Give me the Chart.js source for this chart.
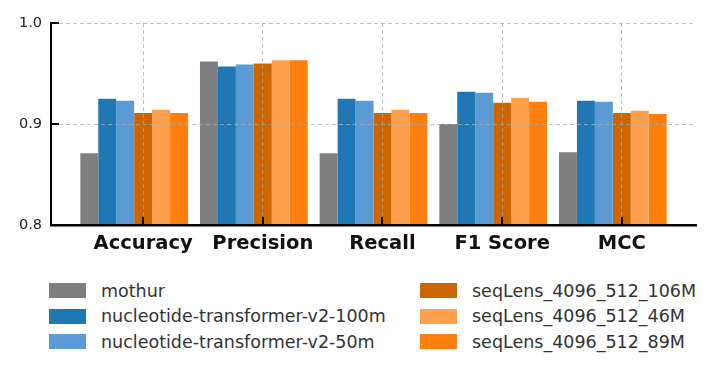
<!DOCTYPE html>
<html>
<head>
<meta charset="utf-8">
<script src="https://cdn.jsdelivr.net/npm/chart.js@4/dist/chart.umd.min.js"></script>
<style>
  body { margin: 0; background: #fff; }
  #wrap { position: relative; width: 720px; height: 379px; font-family: 'DejaVu Sans', sans-serif; }
  #plot { position: absolute; left: 0; top: 0; width: 720px; height: 262px; }
  .legend-item { position: absolute; display: flex; align-items: center; height: 15px; font-size: 17.5px; color: #333; white-space: nowrap; }
  .legend-item span.sw { display: inline-block; width: 37px; height: 15px; margin-right: 15px; }
</style>
</head>
<body>
<div id="wrap">
  <div id="plot"><canvas id="chart"></canvas></div>
  <div id="legend"></div>
</div>
<script>
const categories = ['Accuracy', 'Precision', 'Recall', 'F1 Score', 'MCC'];
const seriesNames = [
  'mothur',
  'nucleotide-transformer-v2-100m',
  'nucleotide-transformer-v2-50m',
  'seqLens_4096_512_106M',
  'seqLens_4096_512_46M',
  'seqLens_4096_512_89M'
];
const mothur = [0.871, 0.962, 0.871, 0.900, 0.872];
const nt100m = [0.925, 0.957, 0.925, 0.932, 0.923];
const nt50m = [0.923, 0.959, 0.923, 0.931, 0.922];
const seqLens106M = [0.911, 0.960, 0.911, 0.921, 0.911];
const seqLens46M = [0.914, 0.963, 0.914, 0.926, 0.913];
const seqLens89M = [0.911, 0.963, 0.911, 0.922, 0.910];
const yTicks = [0.8, 0.9, 1.0];

const colors = ['#7f7f7f', '#1f77b4', '#5b9bd5', '#cc6600', '#ffa04f', '#ff7f0e'];
const allValues = [mothur, nt100m, nt50m, seqLens106M, seqLens46M, seqLens89M];

// bars are 0.15 wide, the tick sits on the 4th bar of each group
const barW = 0.15;
const shift = -barW / 2;
const xMin = -3.5 * barW - 0.245;
const xMax = categories.length - 1 + 2.5 * barW + 0.245;

const datasets = allValues.map((vals, j) => ({
  label: seriesNames[j],
  data: vals.map((v, i) => ({ x: i + shift, y: v })),
  backgroundColor: colors[j],
  borderWidth: 0,
  barPercentage: 1,
  categoryPercentage: 0.9
}));

const gridColor = 'rgba(170,170,170,0.75)';

const innerTicks = {
  id: 'innerTicks',
  afterDraw(chart) {
    const { ctx, chartArea } = chart;
    const xs = chart.scales.x, ys = chart.scales.y;
    ctx.save();
    ctx.strokeStyle = '#000';
    ctx.lineWidth = 2;
    categories.forEach((c, i) => {
      const px = Math.round(xs.getPixelForValue(i));
      ctx.beginPath();
      ctx.moveTo(px, chartArea.bottom);
      ctx.lineTo(px, chartArea.bottom - 8);
      ctx.stroke();
    });
    yTicks.forEach(v => {
      const py = ys.getPixelForValue(v);
      ctx.beginPath();
      ctx.moveTo(chartArea.left, py);
      ctx.lineTo(chartArea.left + 8, py);
      ctx.stroke();
    });
    ctx.restore();
  }
};

const chart = new Chart(document.getElementById('chart'), {
  type: 'bar',
  data: { datasets },
  options: {
    responsive: true,
    maintainAspectRatio: false,
    animation: false,
    layout: { padding: { top: 23, right: 24, left: 0, bottom: 0 } },
    plugins: { legend: { display: false }, tooltip: { enabled: false } },
    scales: {
      x: {
        type: 'linear',
        min: xMin,
        max: xMax,
        offset: false,
        afterBuildTicks: s => { s.ticks = categories.map((c, i) => ({ value: i })); },
        afterFit: s => { s.height = 37; },
        grid: { offset: false, color: gridColor, lineWidth: 1, drawTicks: false, z: 1 },
        border: { display: true, color: '#000', width: 2.5, dash: [4, 3], z: 2 },
        ticks: {
          padding: 7,
          color: '#111',
          font: { family: 'DejaVu Sans', size: 19.5, weight: 'bold' },
          callback: v => categories[Math.round(v)]
        }
      },
      y: {
        min: 0.8,
        max: 1.0,
        afterBuildTicks: s => { s.ticks = yTicks.map(v => ({ value: v })); },
        afterFit: s => { s.width = 51; },
        grid: { color: gridColor, lineWidth: 1, drawTicks: false, z: 1 },
        border: { display: true, color: '#000', width: 2, dash: [4, 3], z: 2 },
        ticks: {
          padding: 9,
          color: '#222',
          font: { family: 'DejaVu Sans', size: 14.5 },
          callback: v => v.toFixed(1)
        }
      }
    }
  },
  plugins: [innerTicks]
});

// legend in two columns, filled column by column
const legend = document.getElementById('legend');
const colX = [49, 420];
const rowY = [283, 308.5, 334];
chart.data.datasets.forEach((ds, j) => {
  const item = document.createElement('div');
  item.className = 'legend-item';
  item.style.left = colX[Math.floor(j / 3)] + 'px';
  item.style.top = rowY[j % 3] + 'px';
  const sw = document.createElement('span');
  sw.className = 'sw';
  sw.style.background = ds.backgroundColor;
  item.appendChild(sw);
  item.appendChild(document.createTextNode(ds.label));
  legend.appendChild(item);
});
</script>
</body>
</html>
